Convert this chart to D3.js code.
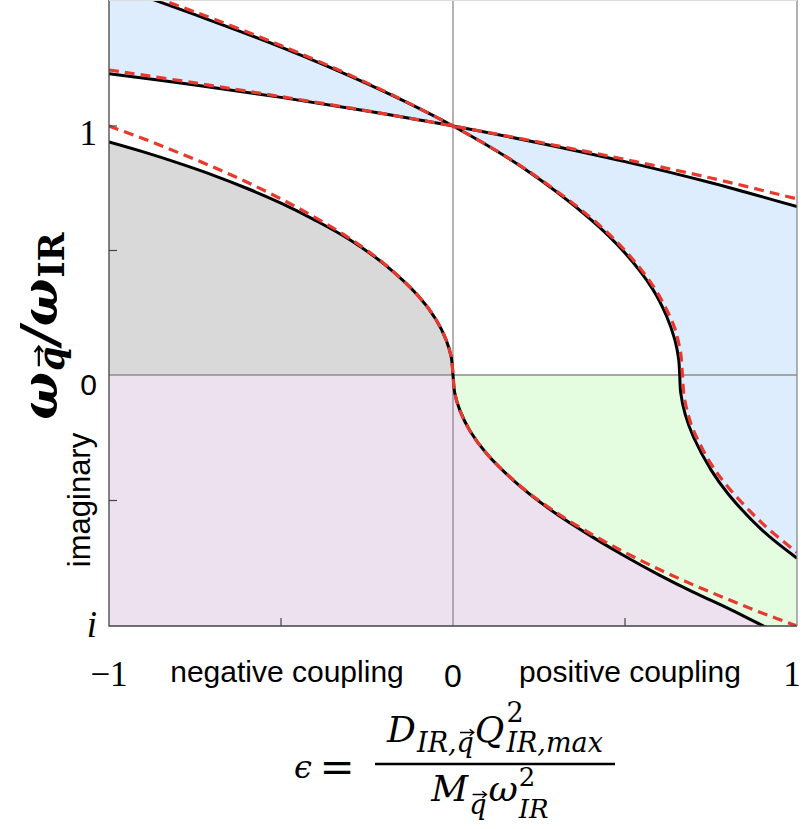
<!DOCTYPE html>
<html>
<head>
<meta charset="utf-8">
<script src="https://cdn.jsdelivr.net/npm/d3@7"></script>
<style>
  body { margin: 0; background: #fff; }
  svg { display: block; }
</style>
</head>
<body>
<div class="chart"></div>
<script>
const width = 803;
const height = 829;

// values: eps = coupling, omega = w_q / w_IR (negative = imaginary part)
const flatEps = [-1, -0.75, -0.5, -0.25, 0, 0.25, 0.5, 0.75, 1];
const flatExact = [1.21, 1.165, 1.115, 1.06, 1, 0.932, 0.857, 0.772, 0.676];
const flatApprox = [1.225, 1.173, 1.118, 1.061, 1, 0.935, 0.866, 0.791, 0.707];

const steepExactEps = [-1, -0.9, -0.75, -0.5, -0.25, 0, 0.2, 0.4, 0.5, 0.58, 0.62, 0.645, 0.656, 0.659, 0.662, 0.675, 0.7, 0.75, 0.8, 0.9, 1];
const steepExact = [1.575, 1.522, 1.447, 1.317, 1.17, 1, 0.835, 0.625, 0.49, 0.346, 0.239, 0.141, 0.063, 0, -0.071, -0.157, -0.25, -0.378, -0.474, -0.62, -0.73];
const steepApproxEps = [-1, -0.9, -0.75, -0.5, -0.25, 0, 0.2, 0.4, 0.5, 0.58, 0.62, 0.645, 0.656, 0.662, 0.667, 0.672, 0.685, 0.7, 0.75, 0.8, 0.9, 1];
const steepApprox = [1.581, 1.533, 1.458, 1.323, 1.173, 1, 0.837, 0.632, 0.5, 0.361, 0.265, 0.187, 0.128, 0.087, 0, -0.087, -0.164, -0.224, -0.354, -0.447, -0.592, -0.707];

const lowEps = [-1, -0.9, -0.8, -0.7, -0.6, -0.5, -0.4, -0.3, -0.2, -0.1, -0.05, -0.02, -0.005, 0, 0.005, 0.02, 0.05, 0.1, 0.2, 0.3, 0.4, 0.5, 0.6, 0.7, 0.8, 0.9, 1];
const lowExact = [0.936, 0.896, 0.852, 0.804, 0.75, 0.69, 0.621, 0.543, 0.445, 0.316, 0.224, 0.141, 0.071, 0, -0.071, -0.141, -0.224, -0.317, -0.449, -0.553, -0.641, -0.722, -0.797, -0.866, -0.93, -0.998, -1.06];
const lowApprox = [1, 0.949, 0.894, 0.837, 0.775, 0.707, 0.632, 0.548, 0.447, 0.316, 0.224, 0.141, 0.071, 0, -0.071, -0.141, -0.224, -0.316, -0.447, -0.548, -0.632, -0.707, -0.775, -0.837, -0.894, -0.949, -1];

const yTicks = [1, 0.5, -0.5];
const xTicks = [-0.5, 0.5];

const x = d3.scaleLinear().domain([-1, 1]).range([109, 797]);
const y = d3.scaleLinear().domain([-1, 0, 1.506]).range([626, 375, 0]);

const svg = d3.select(".chart")
    .append("svg")
        .attr("width", width)
        .attr("height", height);

svg.append("defs").append("clipPath")
    .attr("id", "plotClip")
    .append("rect")
        .attr("x", x(-1)).attr("y", 0)
        .attr("width", x(1) - x(-1)).attr("height", y(-1));

const line = d3.line()
    .x(d => x(d[0]))
    .y(d => y(d[1]))
    .curve(d3.curveCatmullRom.alpha(0.5));

const flatE = d3.zip(flatEps, flatExact);
const flatA = d3.zip(flatEps, flatApprox);
const steepE = d3.zip(steepExactEps, steepExact);
const steepA = d3.zip(steepApproxEps, steepApprox);
const lowE = d3.zip(lowEps, lowExact);
const lowA = d3.zip(lowEps, lowApprox);

const plot = svg.append("g").attr("clip-path", "url(#plotClip)");

const pt = (e, w) => `${x(e)},${y(w)}`;
const cont = pts => "L" + line(pts).slice(1);

// shaded regions
const lowReal = lowE.filter(d => d[0] <= 0);
const lowImag = lowE.filter(d => d[0] >= 0);
const steepImag = steepE.filter(d => d[1] <= 0);

plot.append("path")   // gray, under the soft real branch
    .attr("fill", "#d9d9d9")
    .attr("d", `M${pt(-1, 0)}` + cont(lowReal) + "Z");

plot.append("path")   // purple, unstable side
    .attr("fill", "#ede1f0")
    .attr("d", `M${pt(-1, 0)}` + cont(lowImag) + `L${pt(1, -1.3)}L${pt(-1, -1.3)}Z`);

plot.append("path")   // green
    .attr("fill", "#e4fde1")
    .attr("d", `M${pt(0, 0)}` + cont(steepImag) + `L${pt(1, -1.3)}` + cont(lowImag.slice().reverse()) + "Z");

plot.append("path")   // blue left
    .attr("fill", "#deedfd")
    .attr("d", line(flatE.filter(d => d[0] <= 0)) + cont(steepE.filter(d => d[0] <= 0).reverse()) + "Z");

plot.append("path")   // blue right
    .attr("fill", "#deedfd")
    .attr("d", line(flatE.filter(d => d[0] >= 0)) + cont(steepE.filter(d => d[0] >= 0).reverse()) + "Z");

// zero lines
plot.append("line")
    .attr("x1", x(0)).attr("x2", x(0)).attr("y1", 0).attr("y2", y(-1))
    .attr("stroke", "#8c8c8c").attr("stroke-width", 1.3);
plot.append("line")
    .attr("x1", x(-1)).attr("x2", x(1)).attr("y1", y(0)).attr("y2", y(0))
    .attr("stroke", "#8c8c8c").attr("stroke-width", 1.3);

// exact curves, then approximations dashed on top
[flatE, steepE, lowE].forEach(pts => {
    plot.append("path")
        .attr("d", line(pts))
        .attr("fill", "none")
        .attr("stroke", "#000")
        .attr("stroke-width", 3);
});
[flatA, steepA, lowA].forEach(pts => {
    plot.append("path")
        .attr("d", line(pts))
        .attr("fill", "none")
        .attr("stroke", "#e8392e")
        .attr("stroke-width", 3.2)
        .attr("stroke-dasharray", "10,6");
});

// frame: dark left/bottom, lighter right, faint top
const x0 = x(-1), x1 = x(1), yb = y(-1);
svg.append("path")
    .attr("d", `M${x0},0V${yb}H${x1}`)
    .attr("fill", "none").attr("stroke", "#444").attr("stroke-width", 1.3);
svg.append("path")
    .attr("d", `M${x1},0V${yb}`)
    .attr("fill", "none").attr("stroke", "#888").attr("stroke-width", 1.3);
svg.append("path")
    .attr("d", `M${x0},0.5H${x1}`)
    .attr("fill", "none").attr("stroke", "#ddd").attr("stroke-width", 1);

svg.selectAll(".ytick")
    .data(yTicks)
    .join("line")
        .attr("x1", x0).attr("x2", x0 + 8)
        .attr("y1", d => y(d)).attr("y2", d => y(d))
        .attr("stroke", "#444").attr("stroke-width", 1.2);

svg.selectAll(".xtick")
    .data(xTicks)
    .join("line")
        .attr("x1", d => x(d)).attr("x2", d => x(d))
        .attr("y1", yb).attr("y2", yb - 8)
        .attr("stroke", "#444").attr("stroke-width", 1.2);

// tick labels
const serif = "'Liberation Serif', 'Times New Roman', serif";
const sans = "'Liberation Sans', Arial, sans-serif";
const mathFont = "'DejaVu Serif', serif";

function label(txt, px, py, opts) {
    return svg.append("text")
        .attr("x", px).attr("y", py)
        .attr("text-anchor", opts.anchor || "middle")
        .attr("font-family", opts.font || sans)
        .attr("font-size", opts.size)
        .attr("font-style", opts.italic ? "italic" : "normal")
        .attr("fill", "#000")
        .text(txt);
}

label("1", 97, 145, {anchor: "end", font: serif, size: 35});
label("0", 97, 395, {anchor: "end", size: 30});
label("i", 97, 637, {anchor: "end", font: serif, size: 37, italic: true});

label("\u22121", x(-1), 686, {font: serif, size: 35});
label("0", x(0), 687, {size: 32});
label("1", x(1) - 5, 686, {font: serif, size: 35});
label("negative coupling", 287, 682, {size: 30});
label("positive coupling", 630, 682, {size: 30});

svg.append("text")
    .attr("transform", "translate(90,500) rotate(-90)")
    .attr("text-anchor", "middle")
    .attr("font-family", sans)
    .attr("font-size", 31)
    .text("imaginary");

// small math layout: runs of text placed one after another
function vecArrow(g, xs, len, base, size, weight) {
    const ay = base - size * 0.72;
    const ax1 = xs + len * 0.2, ax2 = xs + len;
    const h = size * 0.12;
    g.append("path")
        .attr("d", `M${ax1},${ay}H${ax2}M${ax2 - h * 1.3},${ay - h}L${ax2},${ay}L${ax2 - h * 1.3},${ay + h}`)
        .attr("fill", "none").attr("stroke", "#000")
        .attr("stroke-width", weight ? 2.2 : 1.4);
}

function runs(g, xs, base, size, list, weight) {
    let cx = xs;
    list.forEach(r => {
        const t = g.append("text")
            .attr("x", cx).attr("y", base)
            .attr("font-family", mathFont)
            .attr("font-size", size)
            .attr("font-style", r.up ? "normal" : "italic")
            .attr("font-weight", weight || "normal")
            .text(r.t);
        const len = t.node().getComputedTextLength();
        if (r.arrow) vecArrow(g, cx, len, base, size, weight);
        cx += len;
    });
    return cx;
}

// super- and subscript at the same x
function stack(g, xs, base, size, sup, sub, supShift, subShift, weight) {
    const a = sup ? runs(g, xs, base - supShift, size, sup, weight) : xs;
    const b = sub ? runs(g, xs, base + subShift, size, sub, weight) : xs;
    return Math.max(a, b);
}

// y axis title
const yt = svg.append("g").attr("transform", "translate(57,326) rotate(-90)");
const yInner = yt.append("g");
let cx = runs(yInner, 0, 0, 50, [{t: "\u03c9"}], "bold");
cx = stack(yInner, cx + 1, 0, 35, null, [{t: "q", arrow: true}], 0, 7, "bold");
cx = runs(yInner, cx + 2, 0, 50, [{t: "/"}, {t: "\u03c9"}], "bold");
cx = stack(yInner, cx + 1, 0, 35, null, [{t: "IR", up: true}], 0, 7, "bold");
yInner.attr("transform", `translate(${-cx / 2},0)`);

// x axis formula
const fm = svg.append("g");
label("\u03f5", 303, 778, {font: mathFont, size: 32, italic: true});
svg.append("text")
    .attr("x", 337).attr("y", 782)
    .attr("text-anchor", "middle")
    .attr("font-family", mathFont)
    .attr("font-size", 42)
    .text("=");

const num = fm.append("g");
cx = runs(num, 0, 742, 36, [{t: "D"}]);
cx = stack(num, cx + 1, 742, 27, null, [{t: "IR,"}, {t: "q", arrow: true}], 0, 10);
cx = runs(num, cx + 1, 742, 36, [{t: "Q"}]);
cx = stack(num, cx + 2, 742, 27, [{t: "2", up: true}], [{t: "IR,max"}], 20, 10);
num.attr("transform", `translate(${495 - cx / 2},0)`);

const den = fm.append("g");
cx = runs(den, 0, 801, 36, [{t: "M"}]);
cx = stack(den, cx + 1, 801, 27, null, [{t: "q", arrow: true}], 0, 13);
cx = runs(den, cx + 2, 801, 36, [{t: "\u03c9"}]);
cx = stack(den, cx + 1, 801, 26, [{t: "2", up: true}], [{t: "IR"}], 15, 17);
den.attr("transform", `translate(${490 - cx / 2},0)`);

fm.append("line")
    .attr("x1", 375).attr("x2", 615)
    .attr("y1", 764).attr("y2", 764)
    .attr("stroke", "#000").attr("stroke-width", 2.5);
</script>
</body>
</html>
